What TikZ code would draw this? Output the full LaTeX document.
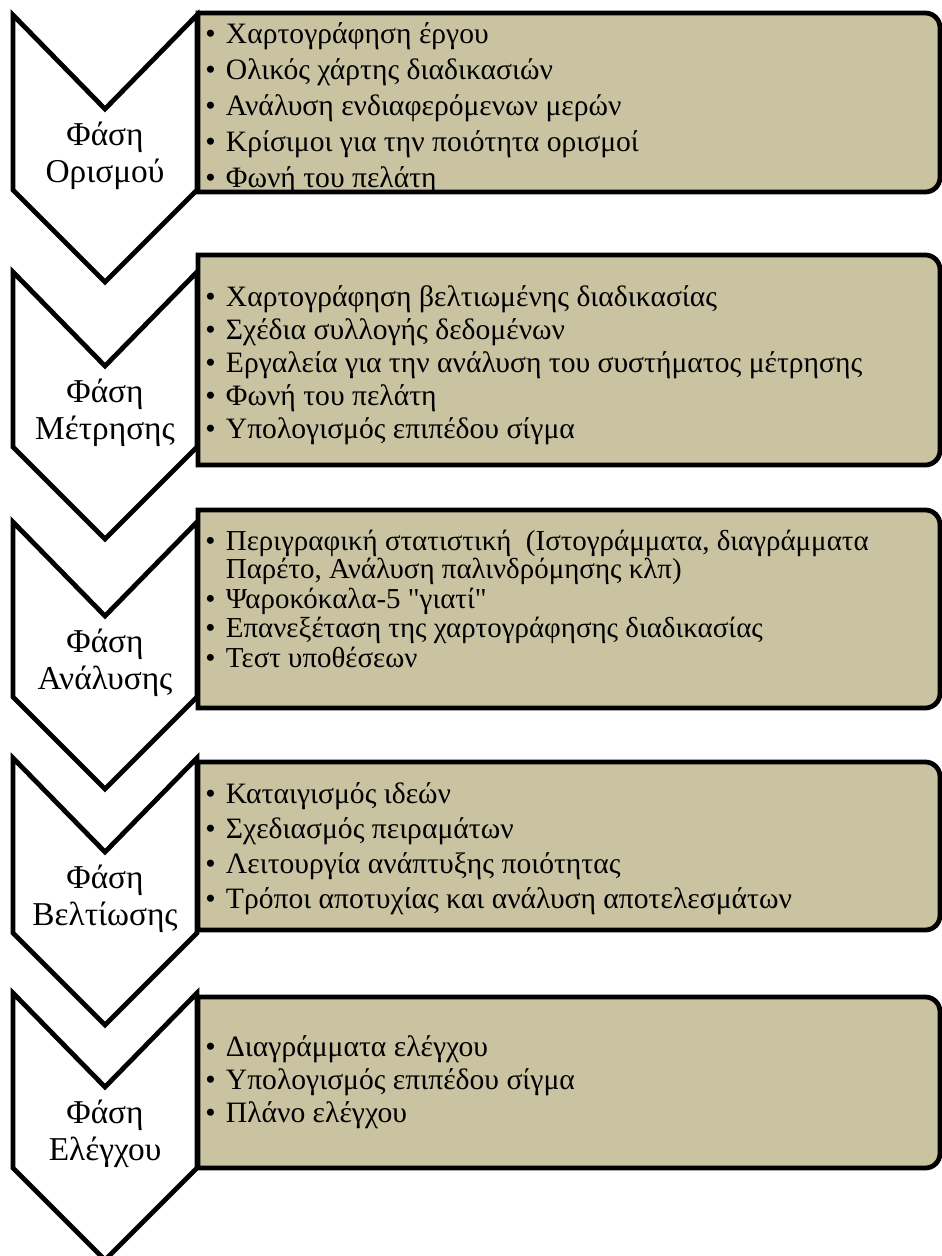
\documentclass[tikz,border=0pt]{standalone}
\usepackage{fontspec}
\setmainfont{Liberation Serif}[Ligatures=TeXOff]
\definecolor{khaki}{RGB}{201,195,161}
\newcommand{\itm}{\makebox[15.5pt][l]{•}}
\tikzset{
  chevron/.style={line width=3.6pt, draw=black, fill=white},
  phasebox/.style={line width=3.6pt, draw=black, fill=khaki},
  phasename/.style={align=center, inner sep=0pt, font=\fontsize{25}{27.75}\selectfont},
  itemlist/.style={align=left, anchor=west, inner sep=0pt, font=\fontsize{22.2}{27}\selectfont},
}
\begin{document}
\begin{tikzpicture}[x=0.75pt, y=-0.75pt]
\useasboundingbox (0,0) rectangle (942,1256);

% Chevrons, phase names and the boxes beside them
\foreach \t/\bt/\bb/\n/\lab in {15/13/192/def/{Φάση\\Ορισμού},
    272/255/465/meas/{Φάση\\Μέτρησης},
    522/510/708/anal/{Φάση\\Ανάλυσης},
    758/762/930/impr/{Φάση\\Βελτίωσης},
    993/997/1168/ctrl/{Φάση\\Ελέγχου}} {
    \draw[chevron] (13,\t) -- (105,\t+94) -- (197,\t) -- (197,\t+175)
        -- (105,\t+267) -- (13,\t+175) -- cycle;
    \node[phasename] (\n) at (105,\t+141) {\lab};
    \draw[phasebox] (198,\bt) -- (600,\bt) [rounded corners=11pt] -- (940,\bt)
        -- (940,\bb) -- (600,\bb) [sharp corners] -- (198,\bb) -- cycle;
}

% Items of each phase
\node[itemlist] (defitems) at (205,108) {\itm Χαρτογράφηση έργου\\
    \itm Ολικός χάρτης διαδικασιών\\
    \itm Ανάλυση ενδιαφερόμενων μερών\\
    \itm Κρίσιμοι για την ποιότητα ορισμοί\\
    \itm Φωνή του πελάτη};
\node[itemlist, font=\fontsize{22.2}{24.75}\selectfont] (measitems) at (205,365) {\itm Χαρτογράφηση βελτιωμένης διαδικασίας\\
    \itm Σχέδια συλλογής δεδομένων\\
    \itm Εργαλεία για την ανάλυση του συστήματος μέτρησης\\
    \itm Φωνή του πελάτη\\
    \itm Υπολογισμός επιπέδου σίγμα};
\node[itemlist, font=\fontsize{21.7}{19}\selectfont] (analitems) at (205,599) {\itm Περιγραφική στατιστική \ (Ιστογράμματα, διαγράμματα\\
    \makebox[15.5pt]{}Παρέτο, Ανάλυση παλινδρόμησης κλπ)\\[1.5pt]
    \itm Ψαροκόκαλα-5 "γιατί"\\[1.5pt]
    \itm Επανεξέταση της χαρτογράφησης διαδικασίας\\[1.5pt]
    \itm Τεστ υποθέσεων};
\node[itemlist, font=\fontsize{22.2}{26.25}\selectfont] (impritems) at (205,849) {\itm Καταιγισμός ιδεών\\
    \itm Σχεδιασμός πειραμάτων\\
    \itm Λειτουργία ανάπτυξης ποιότητας\\
    \itm Τρόποι αποτυχίας και ανάλυση αποτελεσμάτων};
\node[itemlist, font=\fontsize{22.2}{24.75}\selectfont] (ctrlitems) at (205,1082) {\itm Διαγράμματα ελέγχου\\
    \itm Υπολογισμός επιπέδου σίγμα\\
    \itm Πλάνο ελέγχου};

\end{tikzpicture}
\end{document}
